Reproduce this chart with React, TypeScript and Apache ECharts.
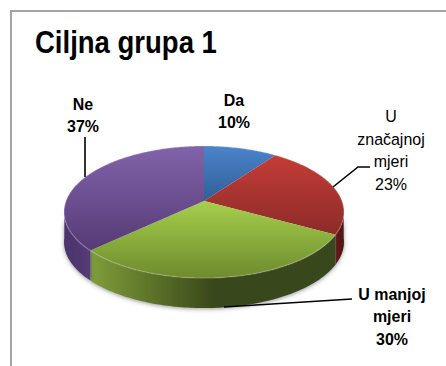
import React, { useEffect, useRef } from "react";
import * as echarts from "echarts";

const titleText = "Ciljna grupa 1";
const categories = ["Da", "U\nznačajnoj\nmjeri", "U manjoj\nmjeri", "Ne"];
const values = [10, 23, 30, 37];
const boldLabels = [true, false, true, true];

const labelAnchors = [
  [234, 111],
  [391, 150],
  [392, 316],
  [83, 115],
];
const leaders = [
  [[85, 137], [85, 177]],
  [[370, 167], [358, 167], [333, 187]],
  [[352, 299], [224, 307]],
];

const topStops = [
  ["#4b84cb", "#2f5f97"],
  ["#c73d37", "#8a2b28"],
  ["#a6d04c", "#6e8b2e"],
  ["#8163aa", "#553a75"],
];
const topRange = [
  [146, 201],
  [152, 236],
  [200, 278],
  [146, 252],
];
const sideStops = [
  ["#2f5f97", "#2f5f97"],
  ["#6b1c1c", "#4a0f10"],
  ["#7f9d3a", "#38471a"],
  ["#4a3369", "#553c78"],
];
const sideRange = [
  [204, 204],
  [335, 345],
  [92, 215],
  [64, 92],
];

const CX = 204;
const Y0 = 201;
const RX = 138;
const S = 64.2;
const K = 1 / 6;
const DEPTH = 30;

function project(deg: number, dy = 0): number[] {
  const a = (deg * Math.PI) / 180;
  const u = Math.sin(a);
  const v = -Math.cos(a);
  const w = 1 - K * v;
  return [CX + (RX * u) / w, Y0 + (S * v) / w + dy];
}

function arc(from: number, to: number, dy = 0): number[][] {
  const pts: number[][] = [];
  const n = Math.max(2, Math.ceil(Math.abs(to - from)));
  for (let i = 0; i <= n; i++) pts.push(project(from + ((to - from) * i) / n, dy));
  return pts;
}

const slices: number[][] = [];
{
  const total = values.reduce((s, x) => s + x, 0);
  let acc = 0;
  values.forEach((x, i) => {
    slices.push([(acc / total) * 360, ((acc + x) / total) * 360, i]);
    acc += x;
  });
}

function grad(x0: number, y0: number, x1: number, y1: number, c0: string, c1: string) {
  return new echarts.graphic.LinearGradient(x0, y0, x1, y1, [
    { offset: 0, color: c0 },
    { offset: 1, color: c1 },
  ], true);
}

const renderSide = (_p: any, api: any) => {
  const i = api.value(2);
  const from = Math.max(api.value(0), 96);
  const to = Math.min(api.value(1), 264);
  if (to <= from) return { type: "group", children: [] };
  const points = [...arc(from, to), ...arc(to, from, DEPTH)];
  return {
    type: "polygon",
    shape: { points },
    style: {
      fill: grad(sideRange[i][0], 0, sideRange[i][1], 0, sideStops[i][0], sideStops[i][1]),
      shadowBlur: 4,
      shadowColor: "rgba(60,60,60,0.55)",
      shadowOffsetY: 1,
    },
  };
};

const renderTop = (_p: any, api: any) => {
  const i = api.value(2);
  const from = api.value(0);
  const to = api.value(1);
  const edge = arc(from, to);
  return {
    type: "group",
    children: [
      {
        type: "polygon",
        shape: { points: [[CX, Y0], ...edge] },
        style: {
          fill: grad(0, topRange[i][0], 0, topRange[i][1], topStops[i][0], topStops[i][1]),
        },
      },
      {
        type: "polyline",
        shape: { points: edge },
        style: { fill: "none", stroke: "rgba(255,255,255,0.18)", lineWidth: 1.5 },
      },
    ],
  };
};

export default function App() {
  const ref = useRef<HTMLDivElement>(null);
  useEffect(() => {
    const chart = echarts.init(ref.current!, null, { renderer: "svg" });
    const font = '"Liberation Sans", Arial, sans-serif';
    chart.setOption({
      animation: false,
      backgroundColor: "#ffffff",
      graphic: [
        {
          type: "rect",
          z: -1,
          shape: { x: 11, y: 11, width: 500, height: 420 },
          style: { fill: "none", stroke: "#a4a4a4", lineWidth: 2 },
        },
        {
          type: "text",
          z: 10,
          x: 35,
          y: 42,
          scaleX: 0.86,
          style: {
            text: titleText,
            align: "left",
            verticalAlign: "middle",
            fontFamily: font,
            fontSize: 32,
            fontWeight: "bold",
            fill: "#000000",
          },
        },
        ...leaders.map((points) => ({
          type: "polyline",
          z: 10,
          shape: { points },
          style: { fill: "none", stroke: "#000000", lineWidth: 1.6 },
        })),
        ...categories.map((c, i) => ({
          type: "text",
          z: 10,
          x: labelAnchors[i][0],
          y: labelAnchors[i][1],
          scaleX: 0.94,
          style: {
            text: `${c}\n${values[i]}%`,
            align: "center",
            verticalAlign: "middle",
            fontFamily: font,
            fontSize: 17,
            lineHeight: 22.5,
            fontWeight: boldLabels[i] ? "bold" : "normal",
            fill: "#000000",
          },
        })),
      ],
      series: [
        { type: "custom", coordinateSystem: "none", silent: true, z: 1, data: slices, renderItem: renderSide },
        { type: "custom", coordinateSystem: "none", silent: true, z: 2, data: slices, renderItem: renderTop },
      ],
    });
    return () => chart.dispose();
  }, []);
  return (
    <div
      ref={ref}
      style={{ position: "absolute", left: 0, top: 0, width: 446, height: 366 }}
    />
  );
}
